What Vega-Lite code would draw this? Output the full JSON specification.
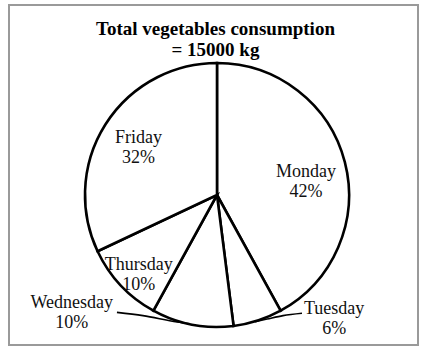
{
  "$schema": "https://vega.github.io/schema/vega-lite/v6.json",
  "autosize": "none",
  "width": 409,
  "height": 340,
  "padding": {"left": 9, "top": 5, "right": 11, "bottom": 11},
  "background": "white",
  "view": {"stroke": "#9a9a9a", "strokeWidth": 2},
  "title": {
    "text": ["Total vegetables consumption", "= 15000 kg"],
    "font": "Liberation Serif",
    "fontSize": 19,
    "fontWeight": "bold",
    "color": "#000000",
    "anchor": "middle",
    "lineHeight": 21,
    "baseline": "top",
    "offset": -55,
    "dx": 2
  },
  "datasets": {
    "consumption": [
      {"idx": 1, "day": "Monday", "share": 42, "label": "Monday\n42%"},
      {"idx": 2, "day": "Tuesday", "share": 6, "label": "Tuesday\n6%"},
      {"idx": 3, "day": "Wednesday", "share": 10, "label": "Wednesday\n10%"},
      {"idx": 4, "day": "Thursday", "share": 10, "label": "Thursday\n10%"},
      {"idx": 5, "day": "Friday", "share": 32, "label": "Friday\n32%"}
    ],
    "leaders": [
      {"leader": "Wednesday", "seq": 1, "u": -0.758, "v": -0.889},
      {"leader": "Wednesday", "seq": 2, "u": -0.561, "v": -0.914},
      {"leader": "Wednesday", "seq": 3, "u": -0.303, "v": -0.962},
      {"leader": "Wednesday", "seq": 4, "u": -0.205, "v": -0.975},
      {"leader": "Tuesday", "seq": 1, "u": 0.644, "v": -0.896},
      {"leader": "Tuesday", "seq": 2, "u": 0.5, "v": -0.914},
      {"leader": "Tuesday", "seq": 3, "u": 0.379, "v": -0.94},
      {"leader": "Tuesday", "seq": 4, "u": 0.288, "v": -0.96}
    ]
  },
  "layer": [
    {
      "data": {"name": "consumption"},
      "encoding": {
        "theta": {"field": "share", "type": "quantitative", "stack": true},
        "order": {"field": "idx", "type": "quantitative"},
        "detail": {"field": "day", "type": "nominal"}
      },
      "layer": [
        {
          "mark": {"type": "arc", "outerRadius": 132, "fill": "white", "stroke": "black", "strokeWidth": 2.6, "xOffset": 3.5, "yOffset": 20}
        },
        {
          "mark": {"type": "text", "radius": 92, "dx": 3.5, "dy": 20, "font": "Liberation Serif", "fontSize": 18, "lineHeight": 20, "lineBreak": "\n", "color": "#111"},
          "encoding": {"text": {"condition": {"test": "datum.day === 'Monday'", "field": "label"}, "value": ""}}
        },
        {
          "mark": {"type": "text", "radius": 93, "dx": 3.5, "dy": 13, "font": "Liberation Serif", "fontSize": 18, "lineHeight": 20, "lineBreak": "\n", "color": "#111"},
          "encoding": {"text": {"condition": {"test": "datum.day === 'Friday'", "field": "label"}, "value": ""}}
        },
        {
          "mark": {"type": "text", "radius": 110, "dx": 5.5, "dy": 14.5, "font": "Liberation Serif", "fontSize": 18, "lineHeight": 20, "lineBreak": "\n", "color": "#111"},
          "encoding": {"text": {"condition": {"test": "datum.day === 'Thursday'", "field": "label"}, "value": ""}}
        },
        {
          "mark": {"type": "text", "radius": 119, "dx": -119.5, "dy": 11, "font": "Liberation Serif", "fontSize": 18, "lineHeight": 20, "lineBreak": "\n", "color": "#111"},
          "encoding": {"text": {"condition": {"test": "datum.day === 'Wednesday'", "field": "label"}, "value": ""}}
        },
        {
          "mark": {"type": "text", "radius": 130, "dx": 80.5, "dy": 10, "font": "Liberation Serif", "fontSize": 18, "lineHeight": 20, "lineBreak": "\n", "color": "#111"},
          "encoding": {"text": {"condition": {"test": "datum.day === 'Tuesday'", "field": "label"}, "value": ""}}
        }
      ]
    },
    {
      "data": {"name": "leaders"},
      "mark": {"type": "line", "interpolate": "monotone", "stroke": "black", "strokeWidth": 1.6},
      "encoding": {
        "x": {"field": "u", "type": "quantitative", "scale": {"domain": [-1.57576, 1.52273], "nice": false, "zero": false}, "axis": null},
        "y": {"field": "v", "type": "quantitative", "scale": {"domain": [-1.13636, 1.43939], "nice": false, "zero": false}, "axis": null},
        "detail": {"field": "leader", "type": "nominal"},
        "order": {"field": "seq", "type": "quantitative"}
      }
    }
  ]
}
